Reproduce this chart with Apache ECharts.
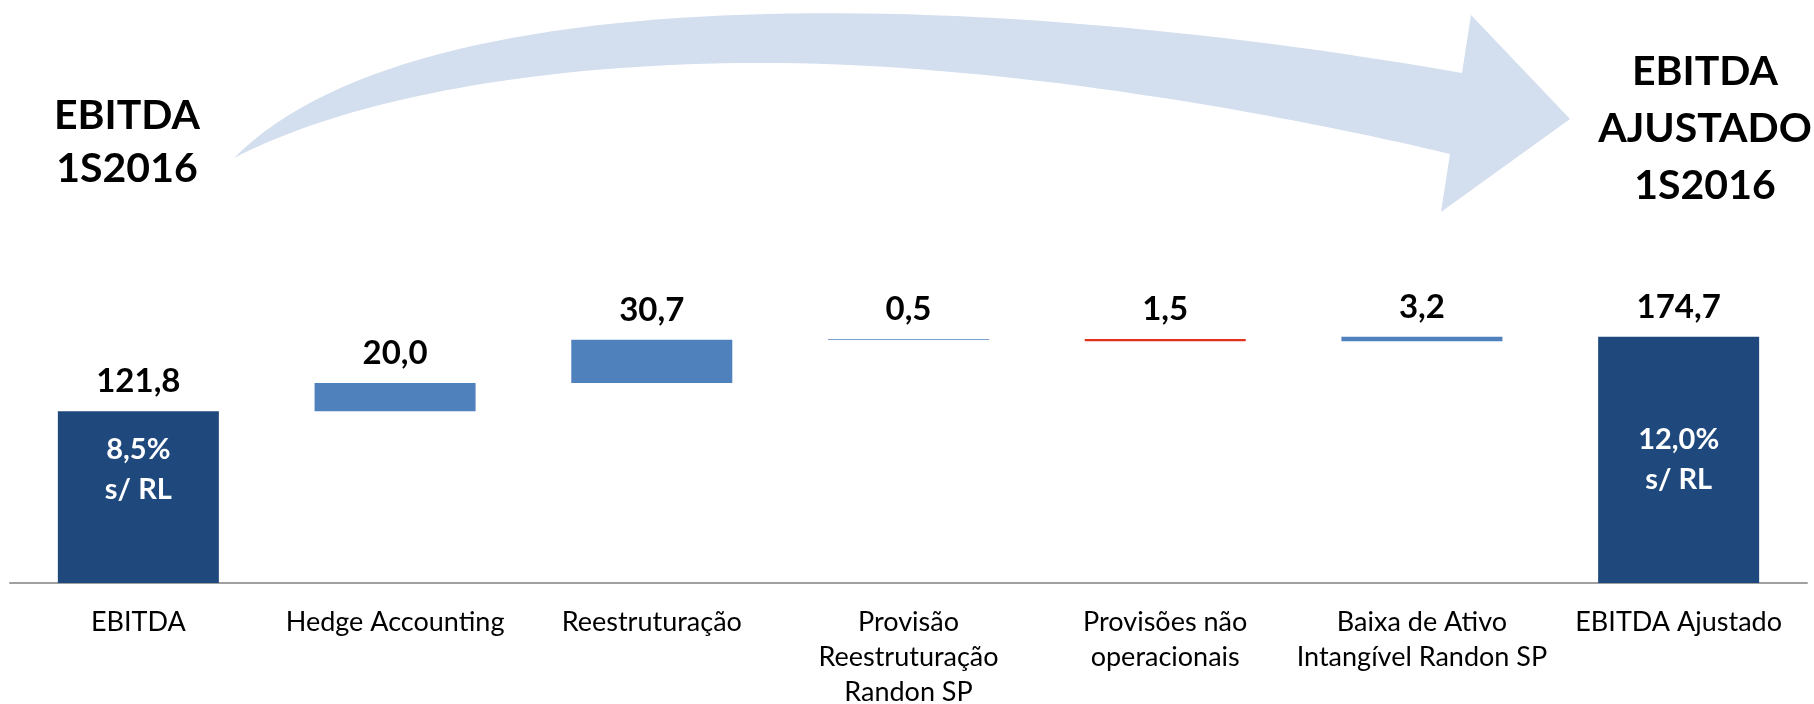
<!DOCTYPE html>
<html>
<head>
<meta charset="utf-8">
<title>EBITDA Ajustado 1S2016</title>
<script src="https://cdn.jsdelivr.net/npm/echarts@6/dist/echarts.min.js"></script>
<style>
  html, body { margin: 0; padding: 0; background: #fff; }
  #main { width: 1814px; height: 704px; }
</style>
</head>
<body>
<div id="main"></div>
<script>
// dados do gráfico (R$ milhões)
const categorias = [
  "EBITDA",
  "Hedge Accounting",
  "Reestruturação",
  "Provisão\nReestruturação\nRandon SP",
  "Provisões não\noperacionais",
  "Baixa de Ativo\nIntangível Randon SP",
  "EBITDA Ajustado"
];
const valores = [121.8, 20.0, 30.7, 0.5, -1.5, 3.2, 174.7];
const tipos = ["total", "ajuste", "ajuste", "ajuste", "ajuste", "ajuste", "total"];
const margens = ["8,5%\ns/ RL", "", "", "", "", "", "12,0%\ns/ RL"];

const corTotal = "#1F497D";
const corPositivo = "#4F81BD";
const corNegativo = "#E2311D";

// monta a cascata: base invisível + barra visível
var acumulado = 0;
const base = [];
const altura = [];
valores.forEach(function (v, i) {
  if (tipos[i] === "total") {
    base.push(0);
    altura.push(v);
    acumulado = v;
  } else {
    base.push(v > 0 ? acumulado : acumulado + v);
    altura.push(Math.abs(v));
    acumulado += v;
  }
});

function formatar(v) {
  return Math.abs(v).toFixed(1).replace(".", ",");
}

// seta curva decorativa (pontos de bezier amostrados)
function bezier(p0, p1, p2, p3, n) {
  var pts = [];
  for (var k = 0; k <= n; k++) {
    var t = k / n, u = 1 - t;
    pts.push([
      u * u * u * p0[0] + 3 * u * u * t * p1[0] + 3 * u * t * t * p2[0] + t * t * t * p3[0],
      u * u * u * p0[1] + 3 * u * u * t * p1[1] + 3 * u * t * t * p2[1] + t * t * t * p3[1]
    ]);
  }
  return pts;
}
var seta = []
  .concat(bezier([234, 158], [420, -30], [1000, -8], [1462, 73], 60))
  .concat([[1471, 15], [1570, 119], [1441, 212]])
  .concat(bezier([1450, 154], [1300, 118], [1000, 60], [740, 63], 40))
  .concat(bezier([740, 63], [500, 66], [330, 108], [234, 158], 40).slice(1));

var myChart = echarts.init(document.getElementById("main"));
var option = {
  animation: false,
  textStyle: { fontFamily: "Lato" },
  grid: { left: 10, right: 7, top: 301, bottom: 121, outerBoundsMode: "none", containLabel: false },
  xAxis: {
    type: "category",
    data: categorias,
    axisLine: { lineStyle: { color: "#A0A0A0", width: 2 } },
    axisTick: { show: false },
    axisLabel: {
      interval: 0,
      fontSize: 27,
      lineHeight: 35,
      color: "#000",
      margin: 22,
      fontFamily: "Lato"
    }
  },
  yAxis: {
    type: "value",
    min: 0,
    max: 200,
    show: false,
    splitLine: { show: false }
  },
  graphic: [
    {
      type: "polygon",
      shape: { points: seta },
      style: { fill: "#D3DEEF" },
      z: 0
    },
    {
      type: "text",
      x: 127,
      y: 142,
      style: {
        text: "EBITDA\n1S2016",
        font: "bold 41px Lato",
        fill: "#000",
        align: "center",
        verticalAlign: "middle",
        lineHeight: 53
      }
    },
    {
      type: "text",
      x: 1705,
      y: 129,
      style: {
        text: "EBITDA\nAJUSTADO\n1S2016",
        font: "bold 41px Lato",
        fill: "#000",
        align: "center",
        verticalAlign: "middle",
        lineHeight: 57
      }
    }
  ],
  series: [
    {
      name: "base",
      type: "bar",
      stack: "cascata",
      barWidth: 161,
      barGap: "-100%",
      silent: true,
      itemStyle: { color: "transparent" },
      data: base
    },
    {
      name: "valor",
      type: "bar",
      stack: "cascata",
      barWidth: 161,
      barGap: "-100%",
      data: altura.map(function (h, i) {
        var cor = tipos[i] === "total" ? corTotal : (valores[i] < 0 ? corNegativo : corPositivo);
        return { value: h, itemStyle: { color: cor } };
      }),
      label: {
        show: true,
        position: "top",
        distance: 13,
        fontSize: 33,
        fontWeight: "bold",
        color: "#000",
        fontFamily: "Lato",
        formatter: function (p) {
          return formatar(valores[p.dataIndex]);
        }
      }
    },
    {
      name: "margem",
      type: "bar",
      barWidth: 161,
      barGap: "-100%",
      silent: true,
      itemStyle: { color: "transparent" },
      data: valores.map(function (v, i) {
        if (!margens[i]) return "-";
        return { value: v, label: { offset: [0, i === 0 ? -27 : 0] } };
      }),
      label: {
        show: true,
        position: "inside",
        fontSize: 29,
        lineHeight: 40,
        fontWeight: "bold",
        color: "#fff",
        fontFamily: "Lato",
        formatter: function (p) {
          return margens[p.dataIndex];
        }
      }
    }
  ]
};
myChart.setOption(option);
</script>
</body>
</html>
